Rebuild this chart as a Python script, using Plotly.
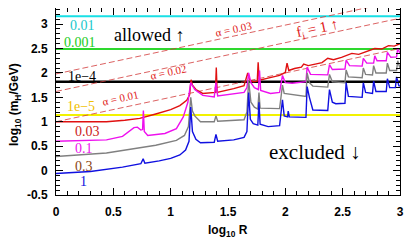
import plotly.graph_objects as go

# ---------------- data ----------------
x_range = [0, 3]

# horizontal lines (f values) : label, log10 m
hline_labels = ["0.01", "0.001", "1e\u22124", "1e\u22125"]
hline_values = [3.16, 2.49, 1.82, 1.14]
hline_colors = ["#19e0e6", "#2ed82e", "#000000", "#f2f200"]
hline_text_colors = ["#19c8cc", "#22cc22", "#000000", "#f0c000"]
hline_widths = [2, 2, 2.6, 2]

# dashed alpha lines: value at log10R=0 and at log10R=3
alpha_labels = ["\u03b1 = 0.01", "\u03b1 = 0.02", "\u03b1 = 0.03"]
alpha_start = [1.00, 1.62, 1.98]
alpha_end = [2.50, 3.12, 3.48]

# curves
red_x = [0, 0.44, 0.6, 0.73, 0.87, 1.0, 1.08, 1.14, 1.165, 1.178, 1.19, 1.22, 1.28, 1.39, 1.398, 1.405,
         1.55, 1.64, 1.672, 1.68, 1.69, 1.72, 1.755, 1.763, 1.772, 1.84, 1.95, 2.0, 2.015, 2.03, 2.08,
         2.14, 2.16, 2.2, 2.32, 2.37, 2.42, 2.49, 2.58, 2.64, 2.69, 2.78, 2.84, 2.9, 2.95, 3.0]
red_y = [1.0, 1.0, 1.03, 1.07, 1.16, 1.25, 1.33, 1.44, 1.55, 1.86, 1.75, 1.66, 1.58, 1.6, 2.11, 1.6,
         1.68, 1.74, 2.0, 1.9, 1.85, 1.82, 1.83, 2.22, 1.85, 1.89, 1.95, 2.01, 2.2, 2.05, 2.09,
         2.12, 2.18, 2.15, 2.21, 2.3, 2.27, 2.32, 2.4, 2.38, 2.42, 2.5, 2.49, 2.56, 2.55, 2.6]

mag_x = [0, 0.3, 0.44, 0.58, 0.64, 0.68, 0.71, 0.74, 0.755, 0.762, 0.77, 0.8, 0.95, 1.05, 1.11, 1.15,
         1.175, 1.19, 1.21, 1.28, 1.38, 1.395, 1.41, 1.64, 1.665, 1.68, 1.7, 1.73, 1.765, 1.775, 1.785,
         1.87, 1.95, 1.975, 2.0, 2.06, 2.18, 2.19, 2.22, 2.37, 2.385, 2.41, 2.52, 2.53, 2.56, 2.67,
         2.68, 2.71, 2.77, 2.78, 2.8, 2.88, 2.89, 2.92, 2.97, 2.98, 3.0]
mag_y = [0.6, 0.61, 0.63, 0.7, 0.8, 0.88, 0.89, 0.83, 0.84, 1.23, 0.8, 0.72, 0.76, 0.86, 1.1, 1.4,
         1.8, 1.75, 1.66, 1.54, 1.51, 1.8, 1.53, 1.6, 1.7, 2.0, 1.8, 1.7, 1.66, 2.05, 1.64,
         1.58, 1.6, 1.95, 1.8, 1.79, 1.82, 2.12, 1.97, 1.96, 2.17, 2.07, 2.08, 2.26, 2.15, 2.14,
         2.3, 2.2, 2.2, 2.35, 2.25, 2.25, 2.42, 2.32, 2.33, 2.5, 2.4]

gray_x = [0, 0.44, 0.87, 1.05, 1.12, 1.155, 1.175, 1.19, 1.21, 1.26, 1.38, 1.395, 1.41, 1.64, 1.665,
          1.68, 1.7, 1.73, 1.76, 1.77, 1.78, 1.95, 1.975, 1.99, 2.18, 2.19, 2.21, 2.24, 2.37, 2.385,
          2.41, 2.52, 2.53, 2.55, 2.67, 2.68, 2.7, 2.76, 2.77, 2.79, 2.88, 2.89, 2.91, 2.97, 2.98, 3.0]
gray_y = [0.29, 0.36, 0.52, 0.62, 0.72, 0.9, 1.5, 1.22, 1.12, 1.0, 1.0, 1.12, 1.01, 1.04, 1.2,
          1.85, 1.4, 1.3, 1.26, 1.6, 1.28, 1.27, 1.75, 1.58, 1.52, 2.0, 1.8, 1.73, 1.71, 1.97,
          1.82, 1.8, 2.06, 1.92, 1.9, 2.1, 1.97, 1.96, 2.15, 2.0, 2.0, 2.2, 2.05, 2.05, 2.25, 2.1]

blue_x = [0, 0.3, 0.58, 0.74, 0.76, 0.775, 0.9, 1.0, 1.08, 1.13, 1.16, 1.175, 1.19, 1.22, 1.26, 1.38,
          1.395, 1.41, 1.55, 1.64, 1.665, 1.68, 1.695, 1.72, 1.76, 1.77, 1.78, 1.85, 1.95, 1.975,
          1.99, 2.02, 2.025, 2.035, 2.18, 2.19, 2.21, 2.24, 2.37, 2.385, 2.41, 2.44, 2.52, 2.53,
          2.55, 2.67, 2.68, 2.7, 2.76, 2.77, 2.79, 2.88, 2.89, 2.91, 2.96, 2.97, 2.99, 3.0]
blue_y = [-0.06, -0.02, 0.07, 0.14, 0.24, 0.15, 0.2, 0.25, 0.32, 0.42, 0.6, 1.3, 0.8, 0.64, 0.57, 0.58,
          0.74, 0.6, 0.63, 0.68, 0.8, 1.6, 1.05, 0.96, 0.93, 1.4, 0.95, 0.9, 0.92, 1.45,
          1.12, 1.1, 1.22, 1.1, 1.09, 1.72, 1.5, 1.24, 1.23, 1.66, 1.4, 1.37, 1.38, 1.8,
          1.52, 1.5, 1.8, 1.6, 1.58, 1.83, 1.62, 1.62, 1.88, 1.7, 1.7, 1.92, 1.74, 1.73]

curve_labels = ["0.03", "0.1", "0.3", "1"]
curve_colors = ["#e01010", "#ee10ee", "#808080", "#1010e0"]
curve_text_colors = ["#cc2020", "#ee10ee", "#8b4513", "#1010e0"]

x_ticks = [0, 0.5, 1, 1.5, 2, 2.5, 3]
x_ticktext = ["0", "0.5", "1", "1.5", "2", "2.5", "3"]
y_ticks = [-0.5, 0, 0.5, 1, 1.5, 2, 2.5, 3]
y_ticktext = ["-0.5", "0", "0.5", "1", "1.5", "2", "2.5", "3"]

# ---------------- figure ----------------
fig = go.Figure()

for v, c, w in zip(hline_values, hline_colors, hline_widths):
    fig.add_trace(go.Scatter(x=x_range, y=[v, v], mode="lines",
                             line=dict(color=c, width=w), hoverinfo="skip"))

for a0, a1 in zip(alpha_start, alpha_end):
    fig.add_trace(go.Scatter(x=x_range, y=[a0, a1], mode="lines",
                             line=dict(color="#d23a3a", width=0.8, dash="6px,3px"),
                             hoverinfo="skip"))

for xs, ys, c in zip([red_x, mag_x, gray_x, blue_x], [red_y, mag_y, gray_y, blue_y], curve_colors):
    fig.add_trace(go.Scatter(x=xs, y=ys, mode="lines", line=dict(color=c, width=1.4)))

serif = "Liberation Serif"
ann = []
# horizontal line labels
h_lab_pos = [(0.105, 2.97), (0.05, 2.62), (0.085, 1.93), (0.075, 1.32)]
for t, col, (ax, ay) in zip(hline_labels, hline_text_colors, h_lab_pos):
    ann.append(dict(x=ax, y=ay, text=t, xanchor="left", yanchor="middle",
                    font=dict(family=serif, size=14, color=col), showarrow=False))
# curve labels
c_lab_pos = [(0.148, 0.81), (0.148, 0.46), (0.148, 0.09), (0.19, -0.23)]
for t, col, (ax, ay) in zip(curve_labels, curve_text_colors, c_lab_pos):
    ann.append(dict(x=ax, y=ay, text=t, xanchor="left", yanchor="middle",
                    font=dict(family=serif, size=14, color=col), showarrow=False))
# alpha labels
a_lab_pos = [(0.56, 1.48), (0.98, 2.01), (1.55, 2.91)]
for t, (ax, ay) in zip(alpha_labels, a_lab_pos):
    ann.append(dict(x=ax, y=ay, text=t, textangle=-12, font=dict(family=serif, size=11, color="#e02020"),
                    showarrow=False))
ann.append(dict(x=2.28, y=2.91, text="f<sub>i</sub> = 1 \u2191", textangle=-12,
                font=dict(family=serif, size=15, color="#e02020"), showarrow=False))
ann.append(dict(x=0.49, y=2.77, text="allowed \u2191", xanchor="left", yanchor="middle",
                font=dict(family=serif, size=18, color="black"), showarrow=False))
ann.append(dict(x=1.84, y=0.38, text="excluded \u2193", xanchor="left", yanchor="middle",
                font=dict(family=serif, size=21, color="black"), showarrow=False))
# axis titles
ann.append(dict(xref="paper", yref="paper", x=(228 - 56) / 344, y=(195 - 231) / 187,
                xanchor="center", yanchor="middle",
                text="log<sub>10</sub> R", showarrow=False,
                font=dict(family="Liberation Sans", size=12, color="black", weight="bold")))
ann.append(dict(xref="paper", yref="paper", x=(15 - 56) / 344, y=(195 - 105) / 187,
                xanchor="center", yanchor="middle",
                text="log<sub>10</sub> (m<sub>H</sub>/GeV)", textangle=-90, showarrow=False,
                font=dict(family="Liberation Sans", size=12, color="black", weight="bold")))

axis_common = dict(showgrid=False, zeroline=False, showline=True, linecolor="black", linewidth=1,
                   mirror="ticks", ticks="inside", ticklen=7, tickcolor="black", tickwidth=1,
                   tickfont=dict(family="Liberation Sans", size=12, color="black", weight="bold"))

# page body has an 8px margin, so the figure is shrunk by 8px and margins shifted accordingly
fig.update_layout(
    width=407, height=232, margin=dict(l=48, r=15, t=0, b=45),
    paper_bgcolor="white", plot_bgcolor="white", showlegend=False,
    annotations=ann,
    xaxis=dict(range=[0, 3], tickvals=x_ticks, ticktext=x_ticktext, ticklabelstandoff=6,
               minor=dict(dtick=0.1, ticks="inside", ticklen=4, tickcolor="black"), **axis_common),
    yaxis=dict(range=[-0.5, 3.33], tickvals=y_ticks, ticktext=y_ticktext, ticklabelstandoff=5,
               minor=dict(dtick=0.1, ticks="inside", ticklen=4, tickcolor="black"), **axis_common),
)

fig.write_html("out.html")
